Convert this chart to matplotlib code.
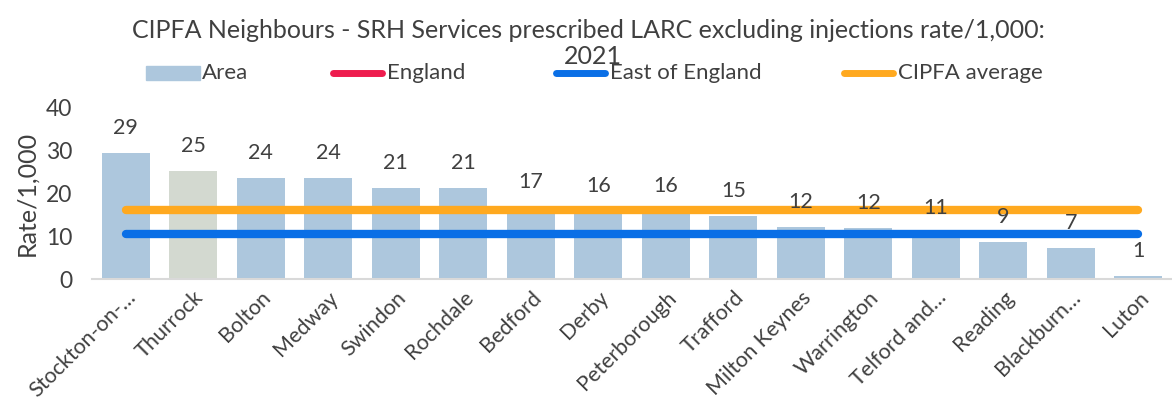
import matplotlib
matplotlib.use("Agg")
import matplotlib.pyplot as plt
from matplotlib.lines import Line2D
from matplotlib.patches import Rectangle

plt.rcParams['font.family'] = ['Lato', 'DejaVu Sans']

# Data
areas = ["Stockton-on-…", "Thurrock", "Bolton", "Medway", "Swindon", "Rochdale",
         "Bedford", "Derby", "Peterborough", "Trafford", "Milton Keynes",
         "Warrington", "Telford and…", "Reading", "Blackburn…", "Luton"]
rates = [29.4, 25.3, 23.6, 23.6, 21.4, 21.2, 16.8, 15.8, 15.8, 14.8, 12.2,
         11.9, 10.8, 8.6, 7.3, 0.6]
highlight = "Thurrock"
east_of_england = 10.6
cipfa_average = 16.1
yticks = [0, 10, 20, 30, 40]

TEXT = "#404040"
BAR = "#adc7dd"
BAR_HI = "#d3d9d0"
ORANGE = "#ffa91f"
BLUE = "#0a6fe6"
RED = "#ee1c4e"

W, H = 1172, 405
fig = plt.figure(figsize=(W / 100, H / 100), dpi=100)
ax = fig.add_axes([92 / W, (H - 279) / H, 1080 / W, 171 / H])

x = list(range(len(areas)))
colors = [BAR_HI if a == highlight else BAR for a in areas]
ax.bar(x, rates, width=0.71, color=colors, zorder=2)

for xi, v in zip(x, rates):
    ax.annotate(f"{v:.0f}", (xi, v), xytext=(0, 18), textcoords="offset points",
                ha="center", va="center", fontsize=15.5, color=TEXT, zorder=5)

ax.plot([x[0], x[-1]], [cipfa_average] * 2, color=ORANGE, lw=6,
        solid_capstyle="round", zorder=3)
ax.plot([x[0], x[-1]], [east_of_england] * 2, color=BLUE, lw=6,
        solid_capstyle="round", zorder=3)

ax.set_xlim(-0.5, 15.5)
ax.set_ylim(0, 40)
ax.set_yticks(yticks)
ax.set_xticks(x)
ax.set_xticklabels(areas, rotation=45, ha="right", va="top",
                   rotation_mode="anchor", fontsize=15.5, color=TEXT)
ax.tick_params(axis="both", length=0, labelcolor=TEXT)
ax.tick_params(axis="y", pad=14, labelsize=16.5)
ax.tick_params(axis="x", pad=6)
for s in ["top", "right", "left"]:
    ax.spines[s].set_visible(False)
ax.spines["bottom"].set_color("#d9d9d9")
ax.spines["bottom"].set_linewidth(1.5)
ax.set_ylabel("Rate/1,000", fontsize=18, color=TEXT, labelpad=6)

# Title
fig.text(588 / W, 1 - 30 / H, "CIPFA Neighbours - SRH Services prescribed LARC excluding injections rate/1,000:",
         ha="center", va="center", fontsize=18, color=TEXT)
fig.text(593 / W, 1 - 57 / H, "2021", ha="center", va="center", fontsize=18, color=TEXT)

# Legend
ly = 1 - 73 / H
fig.patches.append(Rectangle((146 / W, ly - 7 / H), 54 / W, 14 / H,
                             transform=fig.transFigure, color=BAR))
legend_lines = [(330, RED, "England"), (553, BLUE, "East of England"),
                (841, ORANGE, "CIPFA average")]
fig.text(202 / W, ly, "Area", ha="left", va="center", fontsize=16, color=TEXT)
for x0, c, lab in legend_lines:
    fig.lines.append(Line2D([(x0 + 3) / W, (x0 + 52) / W], [ly, ly], color=c, lw=5,
                            solid_capstyle="round", transform=fig.transFigure))
    fig.text((x0 + 57) / W, ly, lab, ha="left", va="center", fontsize=16, color=TEXT)

fig.savefig("out.png", dpi=100)
